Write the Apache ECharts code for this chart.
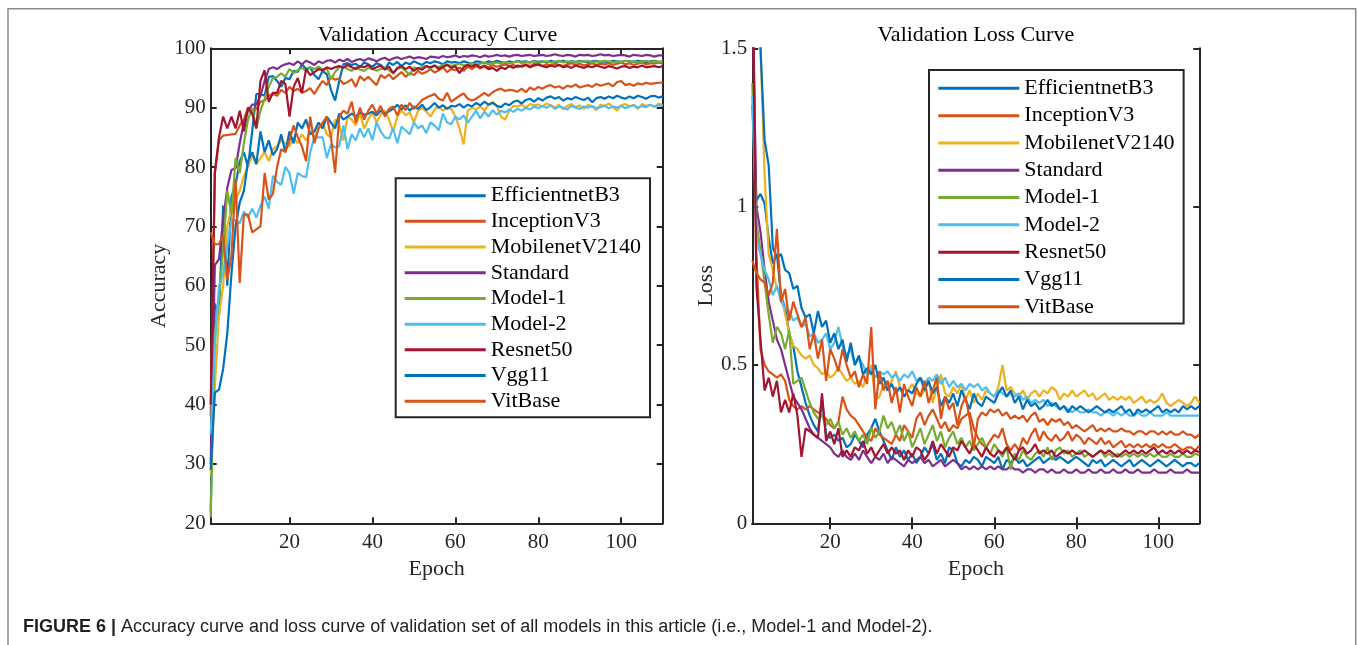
<!DOCTYPE html>
<html>
<head>
<meta charset="utf-8">
<script src="https://cdn.jsdelivr.net/npm/echarts@6/dist/echarts.min.js"></script>
<style>
html,body{margin:0;padding:0;background:#fff;}
#chart{width:1358px;height:645px;}
</style>
</head>
<body>
<div id="chart"></div>
<script>
const seriesNames = ['EfficientnetB3','InceptionV3','MobilenetV2140','Standard','Model-1','Model-2','Resnet50','Vgg11','VitBase'];
const seriesColors = ['#0072BD','#D95319','#EDB120','#7E2F8E','#77AC30','#4DBEEE','#A2142F','#0072BD','#D95319'];
const epochTicks = [20,40,60,80,100];

const accEfficientnetB3 = [22,57,55,73.5,60,75,77,81,82.5,80,
 86,92.3,92.3,92,95.2,95.3,94.5,93.5,95,94.8,
 96.2,96,97.3,96.5,96.8,95.5,94.8,96.2,95.6,93,
 91.2,94.5,97.3,97.5,97.2,97.4,96.8,97.6,97.3,96.9,
 97.5,97.2,96.5,97.6,97.2,97.7,97,97.6,97.3,97.8,
 97.5,97.2,97.7,97.5,97.8,97.6,97.3,97.8,97.6,97.7,
 97.5,97.8,97.6,97.4,97.8,97.7,97.5,97.8,97.6,97.9,
 97.7,97.5,97.8,97.6,97.9,97.7,97.8,97.6,97.9,97.7,
 97.8,97.6,97.9,97.7,97.8,97.9,97.6,97.8,97.7,97.9,
 97.8,97.6,97.8,97.9,97.7,97.8,97.6,97.9,97.8,97.7,
 97.9,97.8,97.7,97.9,97.8,97.6,97.8,97.9,97.7,97.7];
const accInceptionV3 = [38,79,84.5,85.3,85.4,85.5,85.6,87,88,90,
 89.5,89.8,91,91.2,92,92.3,92,93,92.5,93.5,
 92.8,93.2,92.5,92.8,93.3,92.3,93.5,94.5,93.8,95.2,
 94.7,94.9,94,94.3,94.8,93.5,95.3,94.6,95.2,94.5,
 93.8,95.5,95,95.6,94.8,95.4,96,95.2,95.8,95.5,
 96.2,95.7,96,96.5,95.9,96.3,96.8,96,96.5,96.3,
 96.8,96.2,96.9,96.5,97,96.6,97.1,96.8,97.2,96.9,
 97.1,97.3,97,97.2,96.8,97.1,97.3,97,97.4,97.2,
 97,97.3,97.1,97.4,97.2,97,97.3,97.5,97.2,97.4,
 97.1,97.3,97.5,97.2,97.4,97.3,97.5,97.2,97.4,97.6,
 97.3,97.5,97.2,97.4,97.6,97.3,97.5,97.4,97.6,97.5];
const accMobilenetV2140 = [28,43,55,60,70,73,74.5,76,78.5,80,
 82,80.5,81.5,82.5,81,83,83.5,84.5,84,83.5,
 85,84,85.5,84.5,86,85,86.5,87.5,85.5,85,
 88,87,84.5,88.5,88,87,89,86.5,88,89.2,
 87.5,88.8,89.5,88,86,88.5,89.5,88.7,89.2,87.5,
 89.5,90,89.3,88.5,89.7,90.2,89.5,90,89.8,88.5,
 86.5,83.8,89.5,90,89.7,90.2,89.5,90.5,91,90.3,
 88.5,88,89.5,90.3,90.2,90.5,90,90.6,90.4,90.5,
 90.2,90.7,90.4,90,90.5,89.7,90.3,90.6,90.1,90.4,
 89.8,90.5,90.2,89.6,90.5,90.3,90.7,90.1,89.5,90.4,
 90.6,90.2,90.5,89.8,90.6,90.3,90.5,90.1,90.7,90.4];
const accStandard = [30,63.5,64.5,71,76.5,79.5,79.8,84,87.5,89.5,
 90.5,90.5,92,94.5,96.5,96.8,96.5,97,97.3,97.5,
 97.2,97.8,97.3,97.9,97.6,97.2,97.8,97.5,97.9,98,
 97.6,98.1,97.8,98.2,97.7,98,98.2,97.9,98.3,98.1,
 97.8,98.2,98.4,98,98.3,98.5,98.2,98.4,98.6,98.3,
 98.5,98.4,98.2,98.6,98.5,98.4,98.7,98.5,98.6,98.8,
 98.5,98.7,98.6,98.8,98.7,98.5,98.8,98.6,98.7,98.9,
 98.7,98.8,98.6,98.8,98.9,98.7,98.8,98.9,98.7,98.8,
 98.9,98.7,98.8,99,98.8,98.7,98.9,98.8,98.6,98.9,
 98.8,98.9,98.7,98.8,99,98.8,98.9,98.7,98.8,98.9,
 98.8,98.6,98.9,98.8,98.7,98.9,98.8,98.6,98.8,98.8];
const accModel1 = [21,52,58,66,76,72,81.5,79,84,88,
 90,86.5,89.5,91.5,93.5,95,95.2,95.8,95.2,96.5,
 95.8,96.3,96.7,96.2,96.8,96.5,96.9,96.4,96.6,94.8,
 96,96.8,97,96.5,96.2,96.8,96.4,96.2,96.7,96.5,
 96.2,96.5,96.8,96.3,95.8,96.5,96.8,96.2,95.5,96.8,
 96.5,96.9,97,96.6,97.1,96.8,97.2,97.3,97,97.2,
 97.4,97.1,97.3,97.5,97.2,97.4,97.6,97.3,97.5,97.6,
 97.4,97.7,97.5,97.6,97.8,97.5,97.7,97.6,97.8,97.5,
 97.7,97.8,97.6,97.7,97.9,97.6,97.8,97.7,97.6,97.8,
 97.7,97.9,97.6,97.8,97.7,97.9,97.8,97.6,97.8,97.7,
 97.9,97.7,97.8,97.6,97.8,97.9,97.7,97.8,97.7,97.8];
const accModel2 = [35,50,60,62,66.5,71,71,70.5,72.5,71.5,
 73,71.5,73.5,75,73,78.5,77.5,77,80,79,
 75.5,79,78.5,78.3,82.5,85,85,85,81.5,83.8,
 83.3,83.5,87,83,85.5,84.5,86.5,85,86.5,84.5,
 87.5,86,85,84.8,86.5,84,86.8,86.2,85.5,87.5,
 86.5,87,85.7,87.5,87,86.2,89,87.5,87.2,88.5,
 88,88.7,87.5,88.5,89.5,88.2,89.3,88.5,89.6,88.8,
 89.5,89.2,89.7,89.3,89.8,89.5,90,89.7,90.2,89.9,
 90.3,90,90.4,89.8,90.2,90,89.7,90.3,90,89.8,
 90.2,90,90.3,89.9,90.1,90.3,89.9,90.2,90,90.3,
 89.9,90.2,90.4,90,90.3,90.1,90.5,90.2,90.4,90.3];
const accResnet50 = [40,79,85,88.5,86.5,88.5,86.5,89.5,86,90,
 89,86.5,94.5,96.3,91,92.5,92.5,94.5,94,88.5,
 93.5,95,92.5,96.5,95.5,96,96.5,96.3,96.8,96.5,
 96.8,97,96.7,97.2,96.8,96.5,97,96.8,97.2,96.5,
 96.8,97.1,96.4,96.9,95.8,96.7,97,96.5,96.9,96.2,
 96.7,96.4,97,96.8,97.1,96.5,96.9,97.2,96.7,97,
 95.8,96.8,97.2,96.9,97.3,96.8,97,96.5,96.7,96.2,
 96.8,96.5,97,96.7,97.1,96.9,97.2,96.8,97.1,97.3,
 97,96.8,97.1,96.9,97.2,96.8,97,96.7,97.1,96.9,
 96.7,97,96.8,97.1,96.9,96.7,97,96.8,96.6,96.9,
 97,96.7,96.9,96.8,97.1,96.8,96.9,97,96.8,97];
const accVgg11 = [29,42,42.5,46,52,62,70,74,76,81,
 82.5,80.5,86,82.5,84.5,82,83,85.5,82.5,86,
 84,87.5,86.5,88,85.5,86,87.5,86.5,88.5,87.5,
 86.5,89,88,88.5,89,88.5,89.2,88.8,89,89.3,
 88.7,89.5,89,89.4,89.8,90.5,89.7,90.4,89.5,90.2,
 89.8,90.5,89.6,90.1,90.8,90,90.4,89.8,90.3,90.2,
 90.6,90,90.5,90.2,90.8,90.4,91,90.5,90.8,90.3,
 90.1,90.7,90.4,91,91.2,90.7,91.3,91.5,91,91.6,
 91.2,91.7,91.9,91.5,91.8,91.2,91.6,91.4,91.8,91.5,
 91.3,91.7,90.9,91.6,91.8,91.5,91.9,91.6,92,91.7,
 91.5,91.9,91.6,92,91.8,91.5,91.9,92,91.7,91.9];
const accVitBase = [69,67,67,68.5,61,65,78,60.5,72,72,
 69,69.5,70,79,74.5,75.5,80,83,82.5,84.5,
 87,85,83.5,81,88.5,84,86.5,87.5,88.5,85,
 79,88.5,89.5,89,91,87.5,90,88,89.5,90.5,
 89,90.3,88.5,89.8,90.2,88.7,90.5,89.6,90.8,89.8,
 90.5,91.3,91.7,92,92.3,91.5,91.2,92.5,91,91.5,
 92,92.4,91.5,91.2,91.5,92,92.5,92,92.6,93,
 93.2,92.8,93,92.9,92.7,93.2,92.6,93.4,93,93.5,
 93.2,93.6,93.8,93.4,93.6,93.2,93.7,93.5,93.9,93.4,
 93.6,93.8,93.5,94,93.7,93.9,94.1,93.6,94.3,94.5,
 93.8,94,93.7,94.1,93.9,94.2,94,94.1,94.2,94.2];

const lossEfficientnetB3 = [1.32,1.02,1.04,1.01,0.9,0.82,0.85,0.72,0.68,0.6,
 0.56,0.48,0.43,0.38,0.34,0.31,0.29,0.39,0.28,0.27,
 0.28,0.26,0.27,0.24,0.25,0.28,0.26,0.24,0.28,0.3,
 0.33,0.29,0.26,0.23,0.2,0.24,0.21,0.23,0.2,0.22,
 0.19,0.21,0.24,0.22,0.25,0.2,0.22,0.19,0.24,0.23,
 0.19,0.18,0.2,0.19,0.21,0.2,0.18,0.21,0.2,0.19,
 0.21,0.17,0.2,0.19,0.21,0.19,0.2,0.18,0.19,0.2,
 0.21,0.19,0.2,0.21,0.2,0.21,0.2,0.19,0.2,0.21,
 0.2,0.19,0.18,0.2,0.19,0.2,0.18,0.19,0.2,0.19,
 0.18,0.19,0.2,0.18,0.19,0.2,0.19,0.18,0.19,0.2,
 0.19,0.18,0.19,0.2,0.19,0.18,0.19,0.19,0.18,0.19];
const lossInceptionV3 = [1.9,0.85,0.55,0.5,0.48,0.47,0.46,0.47,0.45,0.39,
 0.37,0.36,0.37,0.36,0.37,0.36,0.35,0.34,0.33,0.31,
 0.3,0.32,0.4,0.36,0.34,0.33,0.31,0.29,0.27,0.26,
 0.3,0.28,0.27,0.26,0.25,0.28,0.26,0.31,0.29,0.27,
 0.33,0.35,0.31,0.34,0.36,0.33,0.3,0.32,0.29,0.31,
 0.3,0.33,0.34,0.35,0.3,0.27,0.25,0.24,0.26,0.28,
 0.27,0.3,0.25,0.23,0.25,0.23,0.27,0.25,0.28,0.3,
 0.26,0.29,0.27,0.26,0.28,0.26,0.27,0.29,0.26,0.28,
 0.27,0.25,0.27,0.26,0.25,0.27,0.25,0.26,0.24,0.25,
 0.26,0.24,0.25,0.24,0.25,0.24,0.25,0.24,0.25,0.24,
 0.25,0.24,0.24,0.25,0.24,0.23,0.24,0.24,0.23,0.245];
const lossMobilenetV2140 = [2.0,1.8,1.5,1.1,0.85,0.8,0.74,0.72,0.66,0.6,
 0.56,0.55,0.53,0.52,0.53,0.5,0.49,0.47,0.48,0.46,
 0.47,0.49,0.47,0.45,0.46,0.44,0.45,0.43,0.47,0.5,
 0.39,0.4,0.44,0.42,0.45,0.48,0.43,0.4,0.42,0.44,
 0.41,0.4,0.42,0.45,0.38,0.43,0.47,0.41,0.4,0.43,
 0.41,0.44,0.39,0.42,0.38,0.41,0.39,0.42,0.41,0.4,
 0.43,0.5,0.42,0.43,0.41,0.4,0.42,0.39,0.41,0.42,
 0.4,0.42,0.41,0.43,0.42,0.39,0.41,0.4,0.42,0.4,
 0.41,0.42,0.4,0.41,0.39,0.4,0.41,0.39,0.4,0.39,
 0.4,0.39,0.4,0.38,0.39,0.4,0.38,0.39,0.38,0.39,
 0.41,0.38,0.37,0.38,0.39,0.38,0.37,0.38,0.4,0.38];
const lossStandard = [1.7,1.0,0.92,0.8,0.7,0.64,0.58,0.55,0.5,0.45,
 0.4,0.38,0.36,0.33,0.3,0.28,0.27,0.26,0.25,0.24,
 0.22,0.21,0.23,0.21,0.2,0.22,0.2,0.23,0.21,0.19,
 0.21,0.2,0.22,0.19,0.21,0.2,0.19,0.18,0.2,0.19,
 0.2,0.21,0.19,0.2,0.18,0.19,0.2,0.18,0.19,0.2,
 0.19,0.17,0.18,0.17,0.18,0.17,0.18,0.17,0.18,0.17,
 0.18,0.17,0.17,0.18,0.17,0.17,0.16,0.17,0.17,0.16,
 0.17,0.17,0.16,0.17,0.16,0.16,0.17,0.16,0.16,0.17,
 0.16,0.16,0.17,0.16,0.16,0.17,0.16,0.16,0.17,0.16,
 0.16,0.17,0.16,0.16,0.17,0.16,0.16,0.16,0.17,0.16,
 0.16,0.16,0.17,0.16,0.16,0.16,0.17,0.16,0.16,0.16];
const lossModel1 = [1.39,0.95,0.86,0.76,0.66,0.57,0.62,0.6,0.55,0.61,
 0.44,0.45,0.46,0.42,0.38,0.35,0.33,0.34,0.31,0.33,
 0.3,0.32,0.28,0.3,0.27,0.29,0.26,0.28,0.25,0.3,
 0.27,0.29,0.34,0.3,0.32,0.28,0.31,0.26,0.29,0.24,
 0.27,0.3,0.25,0.28,0.31,0.26,0.29,0.24,0.27,0.29,
 0.25,0.27,0.24,0.26,0.23,0.25,0.27,0.24,0.22,0.25,
 0.23,0.21,0.24,0.17,0.22,0.2,0.23,0.21,0.2,0.22,
 0.23,0.21,0.24,0.2,0.23,0.24,0.22,0.23,0.21,0.22,
 0.23,0.21,0.22,0.21,0.22,0.23,0.21,0.22,0.21,0.22,
 0.21,0.22,0.21,0.22,0.21,0.22,0.21,0.22,0.21,0.22,
 0.21,0.21,0.22,0.21,0.21,0.22,0.21,0.21,0.22,0.215];
const lossModel2 = [1.35,0.9,0.85,0.8,0.77,0.72,0.75,0.7,0.68,0.67,
 0.64,0.65,0.62,0.63,0.59,0.6,0.57,0.58,0.6,0.55,
 0.57,0.62,0.56,0.53,0.55,0.5,0.52,0.5,0.47,0.49,
 0.46,0.48,0.47,0.48,0.46,0.47,0.45,0.47,0.46,0.48,
 0.45,0.46,0.44,0.46,0.45,0.47,0.44,0.46,0.43,0.45,
 0.43,0.44,0.42,0.44,0.43,0.44,0.42,0.43,0.41,0.4,
 0.42,0.41,0.4,0.41,0.4,0.41,0.39,0.4,0.38,0.39,
 0.38,0.39,0.37,0.38,0.37,0.36,0.37,0.36,0.35,0.36,
 0.35,0.35,0.36,0.35,0.35,0.34,0.35,0.35,0.34,0.35,
 0.34,0.35,0.34,0.34,0.35,0.34,0.34,0.35,0.34,0.34,
 0.34,0.35,0.34,0.34,0.34,0.34,0.34,0.34,0.34,0.34];
const lossResnet50 = [1.8,0.75,0.58,0.42,0.46,0.4,0.45,0.35,0.39,0.35,
 0.41,0.34,0.21,0.3,0.29,0.28,0.27,0.41,0.26,0.29,
 0.25,0.3,0.21,0.23,0.21,0.24,0.23,0.26,0.22,0.24,
 0.21,0.23,0.25,0.22,0.24,0.22,0.23,0.2,0.23,0.21,
 0.24,0.23,0.2,0.22,0.26,0.22,0.25,0.23,0.21,0.24,
 0.23,0.26,0.24,0.22,0.25,0.23,0.21,0.24,0.22,0.21,
 0.23,0.22,0.24,0.22,0.2,0.23,0.24,0.22,0.23,0.25,
 0.22,0.23,0.22,0.23,0.21,0.22,0.23,0.22,0.23,0.22,
 0.22,0.23,0.22,0.21,0.22,0.23,0.22,0.23,0.22,0.21,
 0.22,0.23,0.22,0.23,0.22,0.23,0.22,0.23,0.24,0.22,
 0.23,0.22,0.23,0.22,0.23,0.22,0.23,0.22,0.23,0.225];
const lossVgg11 = [1.9,1.7,1.5,1.21,1.13,0.87,0.84,0.85,0.8,0.79,
 0.74,0.75,0.68,0.65,0.66,0.6,0.67,0.62,0.64,0.57,
 0.6,0.55,0.58,0.51,0.57,0.5,0.53,0.47,0.49,0.47,
 0.5,0.44,0.46,0.42,0.44,0.41,0.43,0.4,0.42,0.41,
 0.44,0.46,0.42,0.45,0.41,0.43,0.37,0.4,0.38,0.41,
 0.37,0.42,0.39,0.36,0.41,0.38,0.37,0.4,0.39,0.38,
 0.41,0.43,0.4,0.42,0.38,0.4,0.36,0.39,0.37,0.38,
 0.36,0.37,0.39,0.37,0.38,0.36,0.37,0.35,0.37,0.36,
 0.37,0.36,0.35,0.36,0.37,0.36,0.35,0.36,0.35,0.36,
 0.37,0.35,0.36,0.34,0.36,0.35,0.36,0.35,0.36,0.37,
 0.35,0.36,0.35,0.36,0.35,0.37,0.36,0.37,0.36,0.37];
const lossVitBase = [0.83,0.79,0.77,0.76,0.72,0.76,0.93,0.7,0.74,0.64,
 0.7,0.66,0.62,0.65,0.55,0.6,0.52,0.58,0.45,0.55,
 0.52,0.48,0.55,0.5,0.46,0.48,0.43,0.47,0.44,0.62,
 0.36,0.48,0.42,0.45,0.38,0.43,0.35,0.44,0.4,0.37,
 0.43,0.4,0.45,0.38,0.42,0.46,0.33,0.4,0.36,0.38,
 0.31,0.37,0.4,0.33,0.24,0.33,0.35,0.34,0.36,0.35,
 0.36,0.34,0.35,0.33,0.34,0.33,0.34,0.32,0.34,0.35,
 0.32,0.33,0.31,0.33,0.32,0.33,0.31,0.32,0.3,0.31,
 0.3,0.29,0.3,0.31,0.29,0.3,0.29,0.3,0.29,0.29,
 0.3,0.29,0.29,0.28,0.29,0.29,0.28,0.29,0.29,0.28,
 0.29,0.28,0.29,0.28,0.28,0.29,0.28,0.28,0.27,0.28];

const accSeries = [accEfficientnetB3, accInceptionV3, accMobilenetV2140, accStandard, accModel1, accModel2, accResnet50, accVgg11, accVitBase];
const lossSeries = [lossEfficientnetB3, lossInceptionV3, lossMobilenetV2140, lossStandard, lossModel1, lossModel2, lossResnet50, lossVgg11, lossVitBase];

const SERIF = '"Liberation Serif", "Times New Roman", serif';
const INK = '#262626';

function toPairs(arr){ return arr.map((v,i)=>[i+1,v]); }

function xAxes(grid){
  const tick = {inside:true, length:6, customValues:epochTicks, lineStyle:{color:INK,width:2}};
  return [
    {gridIndex:grid, type:'value', min:1, max:110, position:'bottom',
     axisLine:{lineStyle:{color:INK,width:2}}, axisTick:tick,
     axisLabel:{customValues:epochTicks, fontFamily:SERIF, fontSize:21, color:INK, margin:9},
     splitLine:{show:false},
     name:'Epoch', nameLocation:'middle', nameGap:32,
     nameTextStyle:{fontFamily:SERIF, fontSize:22, color:INK}},
    {gridIndex:grid, type:'value', min:1, max:110, position:'top',
     axisLine:{lineStyle:{color:INK,width:2}}, axisTick:tick,
     axisLabel:{show:false}, splitLine:{show:false}}
  ];
}
function yAxes(grid, mn, mx, iv, nm, gap){
  const tick = {inside:true, length:6, lineStyle:{color:INK,width:2}};
  return [
    {gridIndex:grid, type:'value', min:mn, max:mx, interval:iv, position:'left',
     axisLine:{show:true,lineStyle:{color:INK,width:2}}, axisTick:{show:true,...tick},
     axisLabel:{fontFamily:SERIF, fontSize:21, color:INK, margin:5},
     splitLine:{show:false},
     name:nm, nameLocation:'middle', nameGap:gap, nameRotate:90,
     nameTextStyle:{fontFamily:SERIF, fontSize:22, color:INK}},
    {gridIndex:grid, type:'value', min:mn, max:mx, interval:iv, position:'right',
     axisLine:{show:true,lineStyle:{color:INK,width:2}}, axisTick:{show:true,...tick},
     axisLabel:{show:false}, splitLine:{show:false}}
  ];
}

const series = [];
accSeries.forEach((arr,k)=>{
  series.push({name:seriesNames[k], type:'line', xAxisIndex:0, yAxisIndex:0,
    data:toPairs(arr), showSymbol:false, symbol:'none', clip:true,
    lineStyle:{width:2.2,color:seriesColors[k]}, itemStyle:{color:seriesColors[k]}, animation:false});
});
lossSeries.forEach((arr,k)=>{
  series.push({name:seriesNames[k], type:'line', xAxisIndex:2, yAxisIndex:2,
    data:toPairs(arr), showSymbol:false, symbol:'none', clip:true,
    lineStyle:{width:2.2,color:seriesColors[k]}, itemStyle:{color:seriesColors[k]}, animation:false});
});

function legend(left, top, lh, pad){
  return {orient:'vertical', left:left, top:top, padding:pad,
    data:seriesNames, icon:'rect', itemWidth:81, itemHeight:3, itemGap:0,
    selectedMode:false, backgroundColor:'#fff', borderColor:INK, borderWidth:2,
    textStyle:{fontFamily:SERIF, fontSize:22, color:'#000', lineHeight:lh}};
}

const chart = echarts.init(document.getElementById('chart'), null, {renderer:'canvas'});
chart.setOption({
  backgroundColor:'#fff',
  animation:false,
  grid:[
    {left:210.7, top:48.3, width:452, height:475},
    {left:752.3, top:48.3, width:447, height:475}
  ],
  xAxis:[...xAxes(0), ...xAxes(1)],
  yAxis:[...yAxes(0,20,100,10,'Accuracy',40), ...yAxes(1,0,1.5,0.5,'Loss',35)],
  legend:[
    legend(395.7, 178.3, 25.7, [4.5,9,3.2,9]),
    legend(929, 70, 27.3, [4.7,9,3,9.3])
  ],
  series:series,
  graphic:[
    {type:'rect', shape:{x:8, y:8.7, width:1347.7, height:720}, silent:true,
     style:{fill:'none', stroke:'#8a8a8a', lineWidth:1.5}, z:0},
    {type:'text', x:437.5, y:35, style:{text:'Validation Accuracy Curve', fontFamily:SERIF, fontSize:22,
      fill:'#000', align:'center', verticalAlign:'middle'}},
    {type:'text', x:975.8, y:35, style:{text:'Validation Loss Curve', fontFamily:SERIF, fontSize:22,
      fill:'#000', align:'center', verticalAlign:'middle'}},
    {type:'text', x:23, y:627, scaleX:1.0,
     style:{text:'{b|FIGURE 6 |} Accuracy curve and loss curve of validation set of all models in this article (i.e., Model-1 and Model-2).',
      fontFamily:'"Liberation Sans", Arial, sans-serif', fontSize:18, fill:'#231f20', verticalAlign:'middle',
      rich:{b:{fontFamily:'"Liberation Sans", Arial, sans-serif', fontSize:18, fontWeight:'bold', fill:'#231f20'}}}}
  ]
});
</script>
</body>
</html>
